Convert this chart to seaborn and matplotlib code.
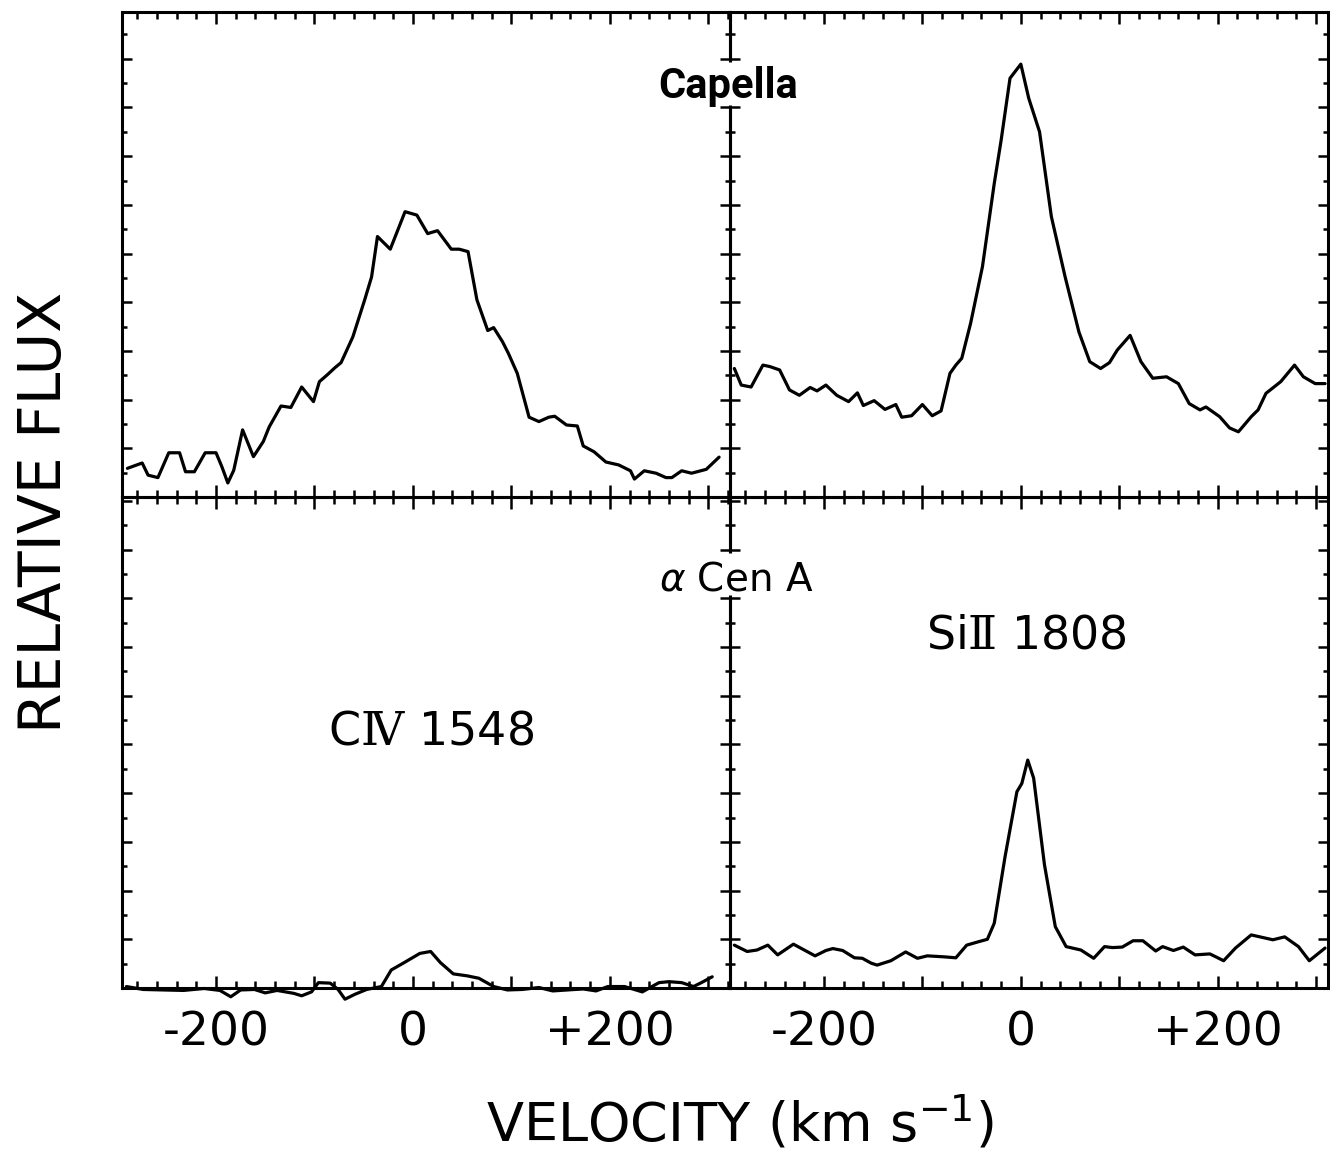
import matplotlib
matplotlib.use("Agg")
import matplotlib.pyplot as plt
import seaborn as sns
import pandas as pd
from matplotlib.ticker import MultipleLocator, FuncFormatter

# ---------------- data ----------------
civ_capella_v = [-290, -275, -269, -259, -248, -237, -231, -222, -211, -200, -194, -188, -182,
                 -173, -162, -152, -146, -134, -124, -113, -101, -95, -87, -79, -73, -61, -49,
                 -42, -36, -23, -8, 4, 15, 25, 39, 47, 56, 65, 76, 82, 91, 97, 106, 118, 128,
                 138, 144, 156, 167, 173, 184, 196, 209, 221, 225, 235, 247, 257, 263, 273,
                 283, 298, 311]
civ_capella_f = [0.59, 0.70, 0.45, 0.40, 0.91, 0.91, 0.52, 0.52, 0.91, 0.91, 0.62, 0.29, 0.55,
                 1.38, 0.83, 1.14, 1.44, 1.87, 1.84, 2.26, 1.96, 2.37, 2.51, 2.66, 2.76, 3.29,
                 4.05, 4.52, 5.35, 5.09, 5.86, 5.79, 5.41, 5.47, 5.09, 5.09, 5.04, 4.05, 3.42,
                 3.48, 3.19, 2.95, 2.54, 1.64, 1.55, 1.64, 1.66, 1.48, 1.46, 1.05, 0.93, 0.72,
                 0.66, 0.54, 0.37, 0.54, 0.49, 0.40, 0.40, 0.54, 0.49, 0.57, 0.82]

siii_capella_v = [-291, -284, -274, -262, -255, -245, -235, -225, -214, -207, -198, -187, -175,
                  -166, -160, -149, -138, -127, -121, -111, -100, -90, -81, -72, -66, -60, -51,
                  -39, -27, -20, -11, 0, 8, 19, 31, 45, 59, 70, 81, 90, 98, 111, 122, 134, 148,
                  160, 171, 182, 188, 202, 212, 221, 234, 241, 249, 264, 278, 287, 299, 309]
siii_capella_f = [2.64, 2.30, 2.26, 2.71, 2.68, 2.61, 2.20, 2.09, 2.25, 2.18, 2.30, 2.09, 1.96,
                  2.14, 1.88, 1.98, 1.80, 1.90, 1.64, 1.67, 1.90, 1.67, 1.77, 2.54, 2.71, 2.85,
                  3.57, 4.73, 6.44, 7.33, 8.60, 8.89, 8.19, 7.50, 5.76, 4.52, 3.39, 2.78, 2.64,
                  2.76, 3.02, 3.32, 2.78, 2.44, 2.47, 2.33, 1.92, 1.79, 1.85, 1.65, 1.42, 1.34,
                  1.65, 1.79, 2.13, 2.37, 2.71, 2.47, 2.33, 2.33]

civ_acen_v = [-291, -274, -254, -233, -212, -196, -185, -175, -161, -150, -138, -121, -113,
              -103, -96, -84, -76, -69, -59, -47, -32, -22, -9, 7, 18, 28, 41, 55, 67, 82, 96,
              111, 128, 142, 157, 173, 186, 198, 215, 233, 241, 250, 260, 273, 285, 293, 304]
civ_acen_f = [0.03, -0.03, -0.04, -0.05, -0.01, -0.05, -0.18, -0.04, -0.03, -0.10, -0.05,
              -0.11, -0.16, -0.08, 0.11, 0.10, -0.03, -0.23, -0.13, -0.03, 0.03, 0.37, 0.52,
              0.71, 0.75, 0.52, 0.29, 0.25, 0.20, 0.03, -0.04, -0.03, 0.01, -0.06, -0.04,
              -0.02, -0.06, 0.03, 0.03, -0.08, 0.01, 0.11, 0.13, 0.11, 0.03, 0.11, 0.23]

siii_acen_v = [-291, -278, -268, -257, -247, -231, -220, -209, -198, -191, -181, -169, -161,
               -152, -146, -132, -117, -105, -95, -78, -66, -55, -43, -34, -27, -16, -4, 1, 7,
               13, 24, 35, 46, 61, 74, 85, 93, 103, 114, 124, 137, 144, 155, 165, 177, 192,
               206, 218, 234, 245, 256, 268, 282, 293, 309]
siii_acen_f = [0.88, 0.75, 0.78, 0.88, 0.68, 0.90, 0.78, 0.66, 0.77, 0.81, 0.77, 0.62, 0.61,
               0.51, 0.47, 0.56, 0.74, 0.61, 0.66, 0.64, 0.62, 0.88, 0.95, 1.00, 1.33, 2.70,
               4.03, 4.20, 4.68, 4.31, 2.53, 1.26, 0.85, 0.78, 0.61, 0.85, 0.83, 0.84, 0.97,
               0.97, 0.76, 0.85, 0.77, 0.84, 0.68, 0.70, 0.56, 0.82, 1.09, 1.04, 0.99, 1.05,
               0.85, 0.56, 0.82]

tick_values = [-200, 0, 200]
tick_labels = ["-200", "0", "+200"]
star_names = ["Capella", r"$\alpha$ Cen A"]
line_names = [r"$\mathsf{C}\mathrm{I}\!\mathrm{V}\ \mathsf{1548}$",
              r"$\mathsf{Si}\mathrm{I}\!\mathrm{I}\ \mathsf{1808}$"]
x_title = r"VELOCITY (km s$^{-1}$)"
y_title = "RELATIVE FLUX"

# ---------------- style ----------------
sns.set_theme(style="ticks")
plt.rcParams["font.family"] = ["DejaVu Sans"]
plt.rcParams["mathtext.fontset"] = "dejavusans"
plt.rcParams["mathtext.rm"] = "DejaVu Serif"
plt.rcParams["mathtext.sf"] = "DejaVu Sans"
plt.rcParams["mathtext.it"] = "DejaVu Serif:italic"

W, H = 1330, 1153
fig, axes = plt.subplots(
    2, 2, figsize=(W / 100, H / 100), dpi=100,
    gridspec_kw=dict(width_ratios=[617.5, 607.5], height_ratios=[9.96, 10.08],
                     wspace=0, hspace=0))
fig.patch.set_facecolor("white")
fig.subplots_adjust(left=122 / W, right=1328 / W, top=1 - 12 / H, bottom=1 - 988 / H)

xlims = [(-295.5, 322), (-295.5, 312)]
ylims = [(0, 9.96), (0, 10.08)]
series = [[(civ_capella_v, civ_capella_f), (siii_capella_v, siii_capella_f)],
          [(civ_acen_v, civ_acen_f), (siii_acen_v, siii_acen_f)]]

label_map = dict(zip(tick_values, tick_labels))


def fmt(v, pos):
    return label_map.get(int(round(v)), "")


for r in range(2):
    for c in range(2):
        ax = axes[r, c]
        v, f = series[r][c]
        df = pd.DataFrame({"velocity": v, "flux": f})
        sns.lineplot(data=df, x="velocity", y="flux", ax=ax, color="black",
                     linewidth=2.3, estimator=None, sort=False, clip_on=False)
        ax.set_xlim(*xlims[c])
        ax.set_ylim(*ylims[r])
        ax.set_xlabel("")
        ax.set_ylabel("")
        ax.patch.set_visible(False)
        for s in ax.spines.values():
            s.set_visible(True)
            s.set_linewidth(2.2)
            s.set_color("black")
        ax.xaxis.set_major_locator(MultipleLocator(100))
        ax.xaxis.set_minor_locator(MultipleLocator(20))
        ax.yaxis.set_major_locator(MultipleLocator(1))
        ax.yaxis.set_minor_locator(MultipleLocator(0.5))
        ax.tick_params(which="both", direction="in", top=True, bottom=True, left=True,
                       right=True, labelleft=False, labelbottom=False, color="black",
                       width=1.8)
        ax.tick_params(axis="x", which="major", length=8.6)
        ax.tick_params(axis="x", which="minor", length=5.0)
        ax.tick_params(axis="y", which="major", length=7.2)
        ax.tick_params(axis="y", which="minor", length=3.6)
        if r == 1:
            ax.xaxis.set_major_formatter(FuncFormatter(fmt))
            ax.tick_params(axis="x", which="major", labelbottom=True, labelsize=34,
                           pad=16, labelcolor="black")

# gaps in the central divider behind the star names
for r in range(2):
    ax = axes[r, 1]
    x0 = xlims[1][0]
    ax.plot([x0, x0], [8.06, 8.94], color="white", lw=14, solid_capstyle="butt",
            clip_on=False, zorder=2.6)

axes[0, 1].text(-297, 8.2, star_names[0], ha="center", va="baseline", fontsize=30,
                fontweight="bold", color="black", zorder=5, family=["Roboto", "DejaVu Sans"])
axes[1, 1].text(-289, 8.17, star_names[1], ha="center", va="baseline", fontsize=28,
                color="black", zorder=5)
axes[1, 0].text(18, 4.99, line_names[0], ha="center", va="baseline", fontsize=33,
                color="black", math_fontfamily="custom")
axes[1, 1].text(5.6, 6.98, line_names[1], ha="center", va="baseline", fontsize=33,
                color="black", math_fontfamily="custom")

fig.text(740 / W, 1 - 1142 / H, x_title, ha="center", va="baseline", fontsize=39,
         color="black")
fig.text(45 / W, 1 - 512 / H, y_title, rotation=90, ha="center", va="center",
         fontsize=42, color="black")

fig.savefig("out.png", dpi=100, facecolor="white")
